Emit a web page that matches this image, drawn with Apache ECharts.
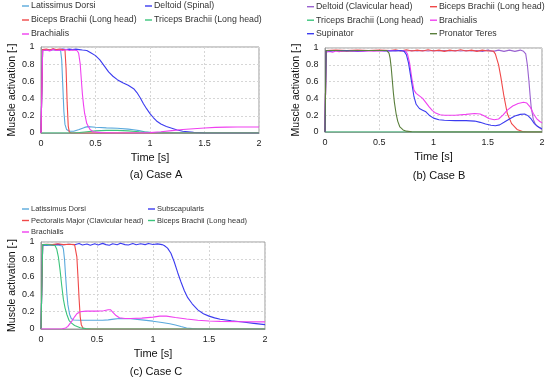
<!DOCTYPE html>
<html>
<head>
<meta charset="utf-8">
<script src="https://cdn.jsdelivr.net/npm/echarts@6/dist/echarts.min.js"></script>
<style>html,body{margin:0;padding:0;background:#fff}#c{width:550px;height:382px}</style>
</head>
<body>
<div id="c"></div>
<script>
// ---------- DATA ----------
const xTicks = [0, 0.5, 1, 1.5, 2];
const yTicks = [0, 0.2, 0.4, 0.6, 0.8, 1];

// Case A
const caseA_latissimusDorsi = [[0,0],[0.015,0.97],[0.04,0.96],[0.07,0.97],[0.1,0.965],[0.13,0.97],[0.16,0.965],[0.18,0.96],[0.19,0.85],[0.2,0.55],[0.21,0.25],[0.22,0.1],[0.235,0.04],[0.26,0.02],[0.3,0.02],[0.35,0.04],[0.4,0.065],[0.43,0.074],[0.5,0.066],[0.6,0.06],[0.7,0.055],[0.8,0.045],[0.85,0.038],[0.9,0.028],[0.95,0.015],[1.0,0.008],[1.1,0.004],[1.3,0.001],[1.5,0],[2,0]];
const caseA_deltoidSpinal = [[0,0],[0.015,0.97],[0.05,0.97],[0.08,0.96],[0.11,0.975],[0.14,0.965],[0.17,0.97],[0.2,0.975],[0.23,0.97],[0.26,0.975],[0.29,0.97],[0.32,0.975],[0.35,0.97],[0.38,0.965],[0.42,0.96],[0.46,0.93],[0.5,0.9],[0.54,0.85],[0.58,0.78],[0.62,0.71],[0.66,0.66],[0.7,0.62],[0.75,0.585],[0.8,0.555],[0.85,0.515],[0.88,0.47],[0.91,0.41],[0.94,0.34],[0.97,0.28],[1.0,0.225],[1.03,0.18],[1.06,0.14],[1.1,0.105],[1.15,0.075],[1.2,0.055],[1.25,0.035],[1.3,0.02],[1.4,0.007],[1.5,0.002],[1.6,0],[2,0]];
const caseA_bicepsBrachii = [[0,0],[0.015,0.97],[0.05,0.975],[0.08,0.965],[0.11,0.98],[0.14,0.97],[0.17,0.975],[0.2,0.97],[0.22,0.965],[0.23,0.75],[0.24,0.35],[0.25,0.08],[0.26,0.01],[0.28,0],[2,0]];
const caseA_tricepsBrachii = [[0,0],[0.3,0],[0.35,0.005],[0.4,0.012],[0.5,0.025],[0.6,0.03],[0.7,0.03],[0.8,0.025],[0.9,0.015],[1.0,0.006],[1.1,0.001],[1.2,0],[2,0]];
const caseA_brachialis = [[0,0],[0.015,0.96],[0.05,0.965],[0.08,0.955],[0.11,0.97],[0.14,0.96],[0.17,0.965],[0.2,0.96],[0.23,0.97],[0.26,0.96],[0.29,0.965],[0.33,0.96],[0.345,0.93],[0.36,0.8],[0.37,0.62],[0.38,0.45],[0.39,0.33],[0.4,0.23],[0.42,0.11],[0.45,0.04],[0.48,0.015],[0.55,0.004],[0.7,0],[0.9,0],[1.0,0.004],[1.1,0.015],[1.2,0.028],[1.3,0.04],[1.4,0.05],[1.5,0.058],[1.6,0.065],[1.7,0.068],[1.8,0.07],[1.9,0.07],[2.0,0.07]];

// Case B
const caseB_deltoidClavicular = [[0,0],[0.01,0.97],[0.05,0.965],[0.1,0.97],[0.15,0.96],[0.2,0.97],[0.25,0.965],[0.3,0.97],[0.35,0.965],[0.4,0.97],[0.45,0.965],[0.5,0.97],[0.55,0.965],[0.6,0.97],[0.65,0.965],[0.7,0.97],[0.75,0.965],[0.8,0.97],[0.85,0.965],[0.9,0.97],[0.95,0.965],[1.0,0.97],[1.05,0.965],[1.1,0.97],[1.15,0.965],[1.2,0.97],[1.25,0.965],[1.3,0.97],[1.35,0.965],[1.4,0.97],[1.45,0.96],[1.5,0.975],[1.55,0.96],[1.6,0.975],[1.65,0.96],[1.7,0.975],[1.75,0.96],[1.8,0.975],[1.83,0.96],[1.85,0.93],[1.865,0.8],[1.88,0.6],[1.89,0.44],[1.9,0.3],[1.92,0.15],[1.94,0.09],[1.97,0.055],[2.0,0.03]];
const caseB_bicepsBrachii = [[0,0],[0.01,0.97],[0.1,0.975],[0.2,0.97],[0.3,0.975],[0.4,0.97],[0.5,0.975],[0.6,0.97],[0.65,0.98],[0.7,0.965],[0.75,0.98],[0.8,0.965],[0.85,0.975],[0.9,0.965],[0.95,0.98],[1.0,0.965],[1.05,0.975],[1.1,0.96],[1.15,0.975],[1.2,0.965],[1.25,0.98],[1.3,0.965],[1.35,0.975],[1.4,0.96],[1.45,0.975],[1.5,0.965],[1.55,0.965],[1.57,0.93],[1.6,0.8],[1.62,0.66],[1.65,0.42],[1.68,0.22],[1.72,0.1],[1.77,0.03],[1.82,0.005],[1.87,0],[2,0]];
const caseB_tricepsBrachii = [[0,0],[0.5,0],[1,0],[1.5,0],[2,0]];
const caseB_brachialis = [[0,0],[0.01,0.95],[0.04,0.96],[0.07,0.95],[0.1,0.965],[0.13,0.955],[0.16,0.965],[0.2,0.96],[0.25,0.965],[0.3,0.96],[0.4,0.965],[0.5,0.965],[0.6,0.97],[0.7,0.97],[0.74,0.965],[0.76,0.93],[0.78,0.82],[0.8,0.64],[0.82,0.5],[0.84,0.46],[0.87,0.43],[0.9,0.4],[0.93,0.35],[0.96,0.3],[0.99,0.255],[1.02,0.225],[1.06,0.205],[1.1,0.2],[1.2,0.2],[1.3,0.21],[1.38,0.22],[1.43,0.215],[1.47,0.19],[1.51,0.16],[1.56,0.145],[1.6,0.155],[1.64,0.2],[1.68,0.26],[1.73,0.31],[1.78,0.34],[1.83,0.355],[1.86,0.345],[1.89,0.3],[1.92,0.22],[1.95,0.16],[1.98,0.125],[2.0,0.11]];
const caseB_supinator = [[0,0],[0.01,0.97],[0.05,0.965],[0.1,0.97],[0.2,0.97],[0.3,0.965],[0.4,0.97],[0.5,0.97],[0.6,0.965],[0.7,0.97],[0.73,0.96],[0.75,0.92],[0.77,0.82],[0.79,0.66],[0.81,0.5],[0.82,0.42],[0.84,0.33],[0.87,0.28],[0.9,0.26],[0.93,0.24],[0.96,0.2],[1.0,0.165],[1.05,0.145],[1.1,0.14],[1.2,0.135],[1.3,0.135],[1.38,0.13],[1.43,0.115],[1.48,0.095],[1.53,0.08],[1.57,0.075],[1.61,0.085],[1.65,0.115],[1.7,0.155],[1.75,0.19],[1.8,0.21],[1.84,0.215],[1.87,0.195],[1.9,0.155],[1.93,0.1],[1.96,0.065],[2.0,0.04]];
const caseB_pronatorTeres = [[0,0],[0.01,0.97],[0.1,0.97],[0.2,0.965],[0.3,0.97],[0.4,0.97],[0.5,0.97],[0.57,0.97],[0.59,0.94],[0.6,0.88],[0.61,0.77],[0.62,0.62],[0.63,0.47],[0.64,0.35],[0.655,0.22],[0.67,0.13],[0.69,0.06],[0.72,0.025],[0.75,0.01],[0.8,0.003],[0.9,0],[2,0]];

// Case C
const caseC_latissimusDorsi = [[0,0],[0.015,0.97],[0.05,0.96],[0.08,0.97],[0.11,0.96],[0.14,0.965],[0.17,0.96],[0.19,0.955],[0.2,0.92],[0.21,0.8],[0.22,0.6],[0.23,0.42],[0.24,0.28],[0.255,0.17],[0.27,0.12],[0.29,0.104],[0.35,0.1],[0.45,0.1],[0.55,0.1],[0.6,0.105],[0.65,0.113],[0.7,0.12],[0.8,0.117],[0.9,0.105],[1.0,0.09],[1.08,0.075],[1.15,0.06],[1.2,0.045],[1.25,0.028],[1.3,0.012],[1.35,0.004],[1.4,0],[2,0]];
const caseC_subscapularis = [[0,0],[0.015,0.96],[0.05,0.97],[0.1,0.965],[0.15,0.975],[0.2,0.968],[0.25,0.975],[0.3,0.968],[0.34,0.982],[0.37,0.966],[0.41,0.978],[0.44,0.962],[0.48,0.98],[0.51,0.966],[0.55,0.984],[0.58,0.97],[0.61,0.962],[0.64,0.98],[0.68,0.968],[0.71,0.985],[0.75,0.97],[0.78,0.965],[0.82,0.982],[0.85,0.968],[0.89,0.98],[0.93,0.97],[0.96,0.982],[1.0,0.972],[1.04,0.978],[1.08,0.97],[1.1,0.96],[1.13,0.93],[1.16,0.87],[1.19,0.77],[1.22,0.65],[1.25,0.54],[1.28,0.44],[1.31,0.36],[1.35,0.29],[1.4,0.22],[1.45,0.175],[1.5,0.148],[1.55,0.128],[1.6,0.112],[1.7,0.095],[1.8,0.08],[1.9,0.065],[2.0,0.05]];
const caseC_pectoralisMajor = [[0,0],[0.015,0.97],[0.05,0.975],[0.1,0.97],[0.15,0.98],[0.2,0.97],[0.25,0.975],[0.3,0.97],[0.31,0.95],[0.32,0.83],[0.33,0.6],[0.34,0.35],[0.35,0.14],[0.36,0.05],[0.375,0.01],[0.4,0],[2,0]];
const caseC_bicepsBrachii = [[0,0],[0.015,0.97],[0.05,0.97],[0.1,0.965],[0.125,0.96],[0.14,0.92],[0.155,0.83],[0.17,0.68],[0.185,0.5],[0.2,0.34],[0.215,0.24],[0.23,0.17],[0.25,0.1],[0.27,0.07],[0.3,0.04],[0.35,0.015],[0.4,0.004],[0.45,0],[2,0]];
const caseC_brachialis = [[0,0],[0.15,0],[0.19,0.003],[0.22,0.012],[0.24,0.03],[0.26,0.065],[0.28,0.1],[0.3,0.14],[0.32,0.175],[0.35,0.198],[0.4,0.205],[0.5,0.205],[0.56,0.21],[0.6,0.222],[0.62,0.222],[0.64,0.195],[0.67,0.155],[0.7,0.13],[0.75,0.12],[0.8,0.12],[0.9,0.125],[1.0,0.137],[1.06,0.148],[1.12,0.148],[1.2,0.133],[1.3,0.115],[1.4,0.1],[1.5,0.092],[1.6,0.088],[1.8,0.083],[2.0,0.082]];

// ---------- STYLE / LAYOUT ----------
const FONT = 'Liberation Sans, Arial, sans-serif';
const C = {
  lightBlue: '#5aa9dc', blue: '#3c3cf0', red: '#f04848', green: '#3cc47c',
  magenta: '#f040f0', purple: '#9a62d0', olive: '#5a7f3c'
};

const panels = [
  {
    grid: {left: 41, top: 47, width: 218, height: 86},
    caption: '(a) Case A', cap: [156, 175],
    legendFont: 8.8, legendLH: 11,
    series: [
      ['A|Latissimus Dorsi', caseA_latissimusDorsi, C.lightBlue],
      ['A|Deltoid (Spinal)', caseA_deltoidSpinal, C.blue],
      ['A|Biceps Brachii (Long head)', caseA_bicepsBrachii, C.red],
      ['A|Triceps Brachii (Long head)', caseA_tricepsBrachii, C.green],
      ['A|Brachialis', caseA_brachialis, C.magenta]
    ],
    legends: [
      {left: 22, top: 0.5, gap: 3, names: ['A|Latissimus Dorsi', 'A|Biceps Brachii (Long head)', 'A|Brachialis']},
      {left: 145, top: 0.5, gap: 3, names: ['A|Deltoid (Spinal)', 'A|Triceps Brachii (Long head)']}
    ]
  },
  {
    grid: {left: 325, top: 48, width: 217, height: 84},
    caption: '(b) Case B', cap: [439, 175.5],
    legendFont: 8.8, legendLH: 11,
    series: [
      ['B|Deltoid (Clavicular head)', caseB_deltoidClavicular, C.purple],
      ['B|Biceps Brachii (Long head)', caseB_bicepsBrachii, C.red],
      ['B|Triceps Brachii (Long head)', caseB_tricepsBrachii, C.green],
      ['B|Brachialis', caseB_brachialis, C.magenta],
      ['B|Supinator', caseB_supinator, C.blue],
      ['B|Pronator Teres', caseB_pronatorTeres, C.olive]
    ],
    legends: [
      {left: 307, top: 1.2, gap: 2.5, names: ['B|Deltoid (Clavicular head)', 'B|Triceps Brachii (Long head)', 'B|Supinator']},
      {left: 430, top: 1.2, gap: 2.5, names: ['B|Biceps Brachii (Long head)', 'B|Brachialis', 'B|Pronator Teres']}
    ]
  },
  {
    grid: {left: 41, top: 242, width: 224, height: 87},
    caption: '(c) Case C', cap: [156, 371.5],
    legendFont: 7.5, legendLH: 10,
    series: [
      ['C|Latissimus Dorsi', caseC_latissimusDorsi, C.lightBlue],
      ['C|Subscapularis', caseC_subscapularis, C.blue],
      ['C|Pectoralis Major (Clavicular head)', caseC_pectoralisMajor, C.red],
      ['C|Biceps Brachii (Long head)', caseC_bicepsBrachii, C.green],
      ['C|Brachialis', caseC_brachialis, C.magenta]
    ],
    legends: [
      {left: 22, top: 204, gap: 1.5, names: ['C|Latissimus Dorsi', 'C|Pectoralis Major (Clavicular head)', 'C|Brachialis']},
      {left: 148, top: 204, gap: 1.5, names: ['C|Subscapularis', 'C|Biceps Brachii (Long head)']}
    ]
  }
];

const option = {
  animation: false,
  backgroundColor: '#fff',
  textStyle: {fontFamily: FONT},
  grid: [], xAxis: [], yAxis: [], series: [], legend: [], graphic: []
};

panels.forEach((p, i) => {
  option.grid.push(Object.assign({show: true, borderColor: '#9a9a9a', borderWidth: 1, containLabel: false}, p.grid));
  option.xAxis.push({
    type: 'value', gridIndex: i, min: xTicks[0], max: xTicks[xTicks.length - 1], interval: xTicks[1] - xTicks[0],
    name: 'Time [s]', nameLocation: 'middle', nameGap: 19.5,
    nameTextStyle: {fontSize: 11, color: '#111', fontFamily: FONT},
    axisLine: {show: true, lineStyle: {color: '#9a9a9a'}},
    axisTick: {show: false},
    axisLabel: {fontSize: 9, color: '#222', margin: 6, fontFamily: FONT},
    splitLine: {show: true, lineStyle: {color: '#d6d6d6', type: [2, 2], width: 1}}
  });
  option.yAxis.push({
    type: 'value', gridIndex: i, min: yTicks[0], max: yTicks[yTicks.length - 1], interval: yTicks[1] - yTicks[0],
    name: 'Muscle activation [-]', nameLocation: 'middle', nameRotate: 90, nameGap: 22,
    nameTextStyle: {fontSize: 10.5, color: '#111', fontFamily: FONT},
    axisLine: {show: true, lineStyle: {color: '#9a9a9a'}},
    axisTick: {show: false},
    axisLabel: {fontSize: 9, color: '#222', margin: 6.5, fontFamily: FONT},
    splitLine: {show: true, lineStyle: {color: '#d6d6d6', type: [2, 2], width: 1}}
  });
  p.series.forEach(s => {
    option.series.push({
      type: 'line', name: s[0], data: s[1], xAxisIndex: i, yAxisIndex: i,
      color: s[2], showSymbol: false, symbol: 'none',
      lineStyle: {width: 1.1, color: s[2]}, silent: true
    });
  });
  p.legends.forEach(l => {
    option.legend.push({
      orient: 'vertical', left: l.left, top: l.top, padding: 0, itemGap: l.gap,
      icon: 'rect', itemWidth: 7, itemHeight: 1.4, selectedMode: false,
      itemStyle: {borderWidth: 0},
      data: l.names,
      formatter: n => n.split('|')[1],
      textStyle: {fontSize: p.legendFont, color: '#333', fontFamily: FONT, lineHeight: p.legendLH, padding: [0, 0, 0, -3]}
    });
  });
  option.graphic.push({
    type: 'text', x: p.cap[0], y: p.cap[1],
    style: {text: p.caption, fontSize: 11, fontFamily: FONT, fill: '#111', textAlign: 'center', textVerticalAlign: 'middle'}
  });
});

const chart = echarts.init(document.getElementById('c'), null, {renderer: 'canvas'});
chart.setOption(option);
</script>
</body>
</html>
